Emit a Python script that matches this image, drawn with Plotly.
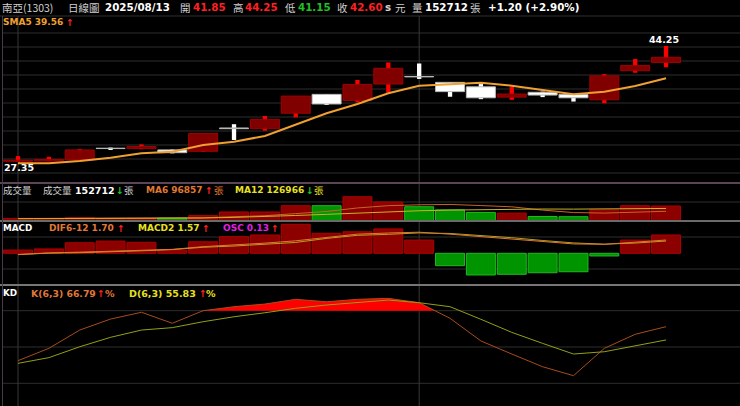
import plotly.graph_objects as go

W, H = 740, 406

# ---------------- data ----------------
idx = list(range(22))
open_ = [27.45, 27.50, 27.65, 29.35, 29.30, 29.10, 28.90, 32.30, 32.20, 34.45, 37.20,
         36.30, 38.70, 39.80, 38.95, 38.30, 36.80, 37.50, 37.20, 36.40, 40.65, 41.85]
high = [28.20, 28.10, 29.25, 29.45, 29.90, 29.15, 31.55, 32.85, 34.05, 36.95, 37.20,
        39.30, 41.85, 41.70, 38.95, 38.70, 38.30, 37.60, 37.20, 40.15, 42.35, 44.25]
low = [27.35, 27.45, 27.60, 29.20, 29.20, 28.60, 28.80, 30.55, 31.90, 33.85, 35.65,
       36.05, 37.45, 39.45, 36.85, 36.50, 36.40, 36.80, 36.15, 35.90, 40.35, 41.15]
close = [27.60, 27.70, 29.10, 29.30, 29.60, 28.70, 31.50, 32.20, 33.55, 36.95, 35.80,
         38.65, 41.00, 39.75, 37.60, 36.70, 37.25, 37.10, 36.70, 39.90, 41.40, 42.60]
sma5 = [27.15, 27.15, 27.49, 27.97, 28.61, 28.84, 29.82, 30.30, 31.13, 32.73, 34.44,
        35.80, 37.36, 38.46, 38.71, 38.90, 38.46, 37.84, 37.21, 37.59, 38.42, 39.56]

volume = [22000, 20000, 28000, 22000, 22000, 26000, 52000, 90000, 90000, 156000, 156000,
          250000, 195000, 145000, 112000, 85000, 78000, 42000, 40000, 112000, 156000, 152712]
vol_ma6 = [21000, 21000, 22000, 22000, 23000, 23300, 28300, 40000, 50300, 72700, 95000,
           132300, 156200, 165300, 169000, 157200, 144200, 109500, 83700, 78200, 85500, 96857]
vol_ma12 = [19000, 19000, 20000, 21000, 21000, 22000, 26000, 33000, 40000, 53000, 65000,
            77800, 92300, 102700, 109700, 114900, 119600, 120900, 119900, 121800, 127300, 126966]

osc = [0.023, 0.031, 0.075, 0.087, 0.078, 0.023, 0.082, 0.118, 0.130, 0.206, 0.142,
       0.153, 0.173, 0.094, -0.088, -0.154, -0.149, -0.138, -0.131, -0.019, 0.094, 0.13]
dif = [-0.15, 0.05, 0.15, 0.25, 0.40, 0.50, 0.85, 1.05, 1.30, 1.60, 2.05,
       2.45, 2.60, 2.70, 2.45, 2.15, 1.85, 1.50, 1.20, 1.15, 1.40, 1.70]
macd2 = [-0.17, 0.02, 0.08, 0.16, 0.32, 0.48, 0.77, 0.93, 1.17, 1.39, 1.91,
         2.30, 2.43, 2.61, 2.54, 2.30, 2.00, 1.64, 1.33, 1.17, 1.31, 1.57]

k_vals = [38.7, 48.9, 64.0, 73.1, 78.7, 69.6, 80.0, 83.3, 85.5, 89.4, 87.4,
          89.4, 90.2, 86.6, 73.7, 55.0, 44.2, 33.7, 26.3, 48.9, 60.5, 66.79]
d_vals = [36.5, 41.2, 50.2, 58.0, 64.0, 66.0, 70.9, 75.0, 78.3, 82.0, 84.7,
          86.6, 88.8, 86.6, 83.3, 72.9, 62.1, 53.0, 44.2, 46.1, 50.8, 55.83]
kd_level = 80

# ---------------- styles ----------------
UP_BODY, UP_EDGE, UP_WICK = "#800000", "#a00000", "#ff0000"
DN_BODY, DN_EDGE, DN_WICK = "#ffffff", "#b8b8b8", "#ffffff"
VUP, VUP_E = "#8c0000", "#b00000"
VDN, VDN_E = "#009400", "#20b820"
LAT = "DejaVu Sans"
CJK = "Noto Sans CJK TC"


def py(p):  # pixel y (from top) -> paper
    return 1 - p / H


def px(p):
    return p / W


up = [c >= o for o, c in zip(open_, close)]
fig = go.Figure()

# candles: wicks then bodies
fig.add_trace(go.Bar(x=idx, y=[h - l for h, l in zip(high, low)], base=low, width=0.14,
                     marker=dict(color=[UP_WICK if u else DN_WICK for u in up], line=dict(width=0)),
                     xaxis="x", yaxis="y", hoverinfo="skip"))
fig.add_trace(go.Bar(x=idx, y=[abs(c - o) for o, c in zip(open_, close)],
                     base=[min(o, c) for o, c in zip(open_, close)], width=0.94,
                     marker=dict(color=[UP_BODY if u else DN_BODY for u in up],
                                 line=dict(color=[UP_EDGE if u else DN_EDGE for u in up], width=1)),
                     xaxis="x", yaxis="y", hoverinfo="skip"))
fig.add_trace(go.Scatter(x=idx, y=sma5, mode="lines", line=dict(color="#f0a030", width=2),
                         xaxis="x", yaxis="y", hoverinfo="skip"))

# volume
vup = [True] + [close[i] >= close[i - 1] for i in range(1, len(close))]
fig.add_trace(go.Bar(x=idx, y=volume, width=0.94,
                     marker=dict(color=[VUP if u else VDN for u in vup],
                                 line=dict(color=[VUP_E if u else VDN_E for u in vup], width=1)),
                     xaxis="x2", yaxis="y2", hoverinfo="skip"))
fig.add_trace(go.Scatter(x=idx, y=vol_ma6, mode="lines", line=dict(color="#c86428", width=1),
                         xaxis="x2", yaxis="y2", hoverinfo="skip"))
fig.add_trace(go.Scatter(x=idx, y=vol_ma12, mode="lines", line=dict(color="#c8b428", width=1),
                         xaxis="x2", yaxis="y2", hoverinfo="skip"))

# MACD
fig.add_trace(go.Bar(x=idx, y=osc, width=0.94,
                     marker=dict(color=[VUP if v >= 0 else VDN for v in osc],
                                 line=dict(color=[VUP_E if v >= 0 else VDN_E for v in osc], width=1)),
                     xaxis="x3", yaxis="y3", hoverinfo="skip"))
fig.add_trace(go.Scatter(x=idx, y=macd2, mode="lines", line=dict(color="#b4a020", width=1),
                         xaxis="x3", yaxis="y5", hoverinfo="skip"))
fig.add_trace(go.Scatter(x=idx, y=dif, mode="lines", line=dict(color="#e07830", width=1),
                         xaxis="x3", yaxis="y5", hoverinfo="skip"))

# KD fill where K above level
regions, cur = [], []
for i in range(len(idx)):
    if k_vals[i] >= kd_level:
        if not cur and i > 0 and k_vals[i - 1] < kd_level:
            t = (kd_level - k_vals[i - 1]) / (k_vals[i] - k_vals[i - 1])
            cur.append((idx[i - 1] + t * (idx[i] - idx[i - 1]), kd_level))
        cur.append((idx[i], k_vals[i]))
    elif cur:
        t = (kd_level - k_vals[i - 1]) / (k_vals[i] - k_vals[i - 1])
        cur.append((idx[i - 1] + t * (idx[i] - idx[i - 1]), kd_level))
        regions.append(cur)
        cur = []
if cur:
    regions.append(cur)
fx, fy = [], []
for r in regions:
    pts = r + [(r[-1][0], kd_level), (r[0][0], kd_level), r[0]]
    fx += [p[0] for p in pts] + [None]
    fy += [p[1] for p in pts] + [None]
fig.add_trace(go.Scatter(x=fx, y=fy, mode="lines", fill="toself", fillcolor="#ff0000",
                         line=dict(width=0, color="#ff0000"), xaxis="x4", yaxis="y4", hoverinfo="skip"))
fig.add_trace(go.Scatter(x=idx, y=k_vals, mode="lines", line=dict(color="#a84c1c", width=1),
                         xaxis="x4", yaxis="y4", hoverinfo="skip"))
fig.add_trace(go.Scatter(x=idx, y=d_vals, mode="lines", line=dict(color="#94a014", width=1),
                         xaxis="x4", yaxis="y4", hoverinfo="skip"))

# ---------------- axes ----------------
XR = [-0.486, 23.396]
xdom = [px(3), 1]
px_per_unit = 6.86
p_top = 44.25 + (46 - 15) / px_per_unit
p_bot = 44.25 - (183 - 46) / px_per_unit
vol_scale = 10530
osc_scale = 0.0071
line_scale = 0.128
kd_scale = 1.21

ax_common = dict(showgrid=False, zeroline=False, showticklabels=False, showline=False, fixedrange=True)
fig.update_layout(
    width=W, height=H, margin=dict(l=0, r=0, t=0, b=0),
    paper_bgcolor="#000000", plot_bgcolor="#000000",
    showlegend=False, barmode="overlay",
    xaxis=dict(domain=xdom, range=XR, anchor="y", **ax_common),
    xaxis2=dict(domain=xdom, range=XR, anchor="y2", matches="x", **ax_common),
    xaxis3=dict(domain=xdom, range=XR, anchor="y3", matches="x", **ax_common),
    xaxis4=dict(domain=xdom, range=XR, anchor="y4", matches="x", **ax_common),
    yaxis=dict(domain=[py(183), py(15)], range=[p_bot, p_top], anchor="x", **ax_common),
    yaxis2=dict(domain=[py(221), py(183)], range=[-(221 - 220.5) * vol_scale, (220.5 - 183) * vol_scale],
                anchor="x2", **ax_common),
    yaxis3=dict(domain=[py(285), py(221)], range=[-(285 - 253.3) * osc_scale, (253.3 - 221) * osc_scale],
                anchor="x3", **ax_common),
    yaxis5=dict(domain=[py(285), py(221)], range=[-(285 - 253.3) * line_scale, (253.3 - 221) * line_scale],
                anchor="x3", overlaying="y3", **ax_common),
    yaxis4=dict(domain=[0, py(285)], range=[(407.5 - 406) / kd_scale, (407.5 - 285) / kd_scale],
                anchor="x4", **ax_common),
)

shapes = []
GRID = "#2e2e2e"
for yy in [33, 47, 61, 75, 89, 103, 117, 131, 145, 159, 173, 202, 237, 269]:
    shapes.append(dict(type="line", xref="paper", yref="paper", x0=px(3), x1=1, y0=py(yy), y1=py(yy),
                       line=dict(color=GRID, width=1), layer="below"))
for lv in [20, 50, 80]:
    shapes.append(dict(type="line", xref="paper", yref="y4", x0=px(3), x1=1, y0=lv, y1=lv,
                       line=dict(color=GRID, width=1), layer="below"))
for xv in [0, 13]:
    shapes.append(dict(type="line", xref="x", yref="paper", x0=xv, x1=xv, y0=0, y1=py(16),
                       line=dict(color="#383838", width=1), layer="below"))
shapes.append(dict(type="line", xref="paper", yref="paper", x0=0, x1=1, y0=py(16), y1=py(16),
                   line=dict(color="#303030", width=1)))
shapes.append(dict(type="line", xref="paper", yref="paper", x0=0, x1=1, y0=py(183), y1=py(183),
                   line=dict(color="#5a4656", width=2)))
shapes.append(dict(type="line", xref="paper", yref="paper", x0=0, x1=1, y0=py(221), y1=py(221),
                   line=dict(color="#6a6a6a", width=2)))
shapes.append(dict(type="line", xref="paper", yref="paper", x0=0, x1=1, y0=py(285), y1=py(285),
                   line=dict(color="#767676", width=2)))
shapes.append(dict(type="line", xref="paper", yref="paper", x0=px(2.5), x1=px(2.5), y0=0, y1=py(16),
                   line=dict(color="#4a3a48", width=1)))
fig.update_layout(shapes=shapes)

ann = []


def txt(s, x, y, color, size=9.2, bold=True, family=LAT, anchor="left"):
    ann.append(dict(text=f"<b>{s}</b>" if bold else s, x=px(x), y=py(y), xref="paper", yref="paper",
                    xanchor=anchor, yanchor="middle", showarrow=False, borderpad=0,
                    font=dict(color=color, size=size, family=family)))


GREY = "#d0d0d0"
RED = "#ff2020"
GREEN = "#20c020"
UPA, DNA = "↑", "↓"

# title row
ty = 7
txt("南亞(1303)", 1, ty, GREY, 10.5, False, CJK)
txt("日線圖", 67, ty, GREY, 10.5, False, CJK)
txt("2025/08/13", 104, ty, "#ffffff", 10.3)
txt("開", 179, ty, GREY, 10.5, False, CJK)
txt(f"{open_[-1]:.2f}", 192, ty, RED, 10.3)
txt("高", 232, ty, GREY, 10.5, False, CJK)
txt(f"{high[-1]:.2f}", 244, ty, RED, 10.3)
txt("低", 284, ty, GREY, 10.5, False, CJK)
txt(f"{low[-1]:.2f}", 297, ty, GREEN, 10.3)
txt("收", 336, ty, GREY, 10.5, False, CJK)
txt(f"{close[-1]:.2f}", 349, ty, RED, 10.3)
txt("s", 384, ty, GREY, 10.3)
txt("元", 394, ty, GREY, 10.5, False, CJK)
txt("量", 411, ty, GREY, 10.5, False, CJK)
txt(f"{volume[-1]}", 424, ty, "#ffffff", 10.3)
txt("張", 469, ty, GREY, 10.5, False, CJK)
chg = close[-1] - close[-2]
txt(f"+{chg:.2f} (+{chg / close[-2] * 100:.2f}%)", 487, ty, "#ffffff", 10.3)

# SMA5 label
txt(f"SMA5 {sma5[-1]:.2f}", 2, 22, "#f0a030", 9.0)
txt(UPA, 65, 22, RED, 9.5)

# volume row
vy = 190
txt("成交量", 2, vy, GREY, 9.5, False, CJK)
txt("成交量", 42, vy, GREY, 9.5, False, CJK)
txt(f"{volume[-1]}", 74, vy, "#ffffff", 9.5)
txt(DNA, 115, vy, GREEN, 9.5)
txt("張", 123, vy, GREY, 9.5, False, CJK)
txt(f"MA6 {vol_ma6[-1]}", 145, vy, "#e07830", 9.0)
txt(UPA, 204, vy, RED, 9.5)
txt("張", 213, vy, "#e07830", 9.5, False, CJK)
txt(f"MA12 {vol_ma12[-1]}", 234, vy, "#e8e020", 9.0)
txt(DNA, 305, vy, GREEN, 9.5)
txt("張", 313, vy, "#e8e020", 9.5, False, CJK)

# MACD row
my = 228
txt("MACD", 2, my, "#ffffff", 8.8)
txt(f"DIF6-12 {dif[-1]:.2f}", 48, my, "#e07838", 9.0)
txt(UPA, 116, my, RED, 9.5)
txt(f"MACD2 {macd2[-1]:.2f}", 137, my, "#e8e020", 9.0)
txt(UPA, 201, my, RED, 9.5)
txt(f"OSC {osc[-1]:.2f}", 222, my, "#e020e0", 9.0)
txt(UPA, 270, my, RED, 9.5)

# KD row
ky = 293
txt("KD", 2, ky, "#ffffff", 8.8)
txt(f"K(6,3) {k_vals[-1]:.2f}", 30, ky, "#e07838", 9.3)
txt(UPA, 96, ky, RED, 9.5)
txt("%", 104, ky, "#e07838", 9.5)
txt(f"D(6,3) {d_vals[-1]:.2f}", 128, ky, "#e8e020", 9.5)
txt(UPA, 198, ky, RED, 9.5)
txt("%", 205, ky, "#e8e020", 9.5)

# extreme price labels
txt(f"{max(high):.2f}", 664, 40, "#ffffff", 9.5, anchor="center")
txt(f"{min(low):.2f}", 3, 168, "#ffffff", 9.5)

fig.update_layout(annotations=ann)
fig.write_html("out.html", config={"displayModeBar": False},
               post_script="document.body.style.margin='0';document.body.style.background='#000';"
                           "document.documentElement.style.overflow='hidden';")
